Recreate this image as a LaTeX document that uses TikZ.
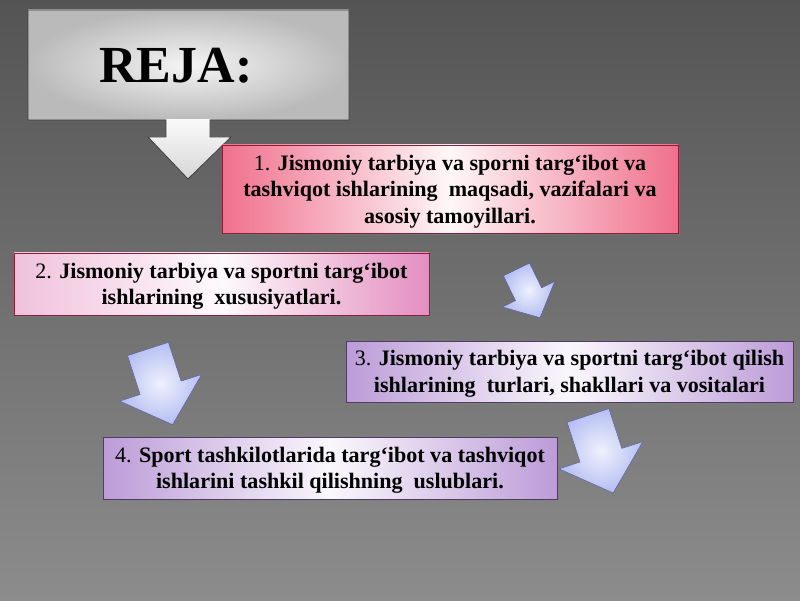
\documentclass[tikz,border=0pt]{standalone}
\usepackage{fontspec}
\setmainfont{Liberation Serif}
\usepackage{tikz}
\usetikzlibrary{shadows}
\definecolor{bgtop}{RGB}{84,84,84}
\definecolor{bgbot}{RGB}{140,140,140}
\definecolor{rose}{RGB}{240,112,140}
\definecolor{roseline}{RGB}{140,30,60}
\definecolor{orchid}{RGB}{228,142,192}
\definecolor{lilac}{RGB}{188,156,216}
\definecolor{lilacline}{RGB}{80,60,100}
\definecolor{arrowblue}{RGB}{120,138,232}
\definecolor{arrowedge}{RGB}{80,90,170}

\begin{document}
\begin{tikzpicture}[
box/.style={draw, line width=0.7pt, inner sep=2pt, align=center, text depth=-5pt,
    font=\fontsize{15.7}{18.8}\selectfont\bfseries,
    drop shadow={opacity=0.35, shadow xshift=0.4mm, shadow yshift=-0.6mm}},
pinkbox/.style={box, draw=roseline, left color=rose, right color=rose, middle color=rose!6!white},
orchidbox/.style={box, draw=roseline, left color=orchid!55!white, right color=orchid, middle color=orchid!5!white},
lilacbox/.style={box, draw=lilacline, left color=lilac, right color=lilac, middle color=lilac!8!white},
bluearrow/.pic={
    \shade[draw=arrowedge, line width=0.3pt, inner color=arrowblue!12!white, outer color=arrowblue!55!white]
    (-0.5,0) -- (0.5,0) -- (0.5,-0.95) -- (1,-0.95) -- (0,-1.85) -- (-1,-0.95) -- (-0.5,-0.95) -- cycle;
}]
\useasboundingbox (0,0) rectangle (20,15);
\fill[top color=bgtop, bottom color=bgbot] (0,0) rectangle (20,15);

\shade[inner color=black!4, outer color=black!27] (0.7,12) rectangle (8.725,14.75);
\shade[top color=black!2, bottom color=black!16]
  (5.25,12.02) -- (5.25,11.575) -- (5.775,11.575) -- (4.7,10.525) -- (3.7,11.575) -- (4.15,11.575) -- (4.15,12.02) -- cycle;
\draw[black!75, line width=0.6pt]
  (0.7,14.75) -- (8.725,14.75) -- (8.725,12) -- (5.25,12) -- (5.25,11.575) -- (5.775,11.575)
  -- (4.7,10.525) -- (3.7,11.575) -- (4.15,11.575) -- (4.15,12) -- (0.7,12) -- cycle;
\node[font=\fontsize{37}{44}\selectfont\bfseries, anchor=base] (reja) at (4.4,12.925) {REJA:};

\node[pinkbox, minimum width=11.4cm, minimum height=2.2cm] (p1) at (11.25,10.275)
  {{\mdseries 1.} Jismoniy tarbiya va sporni targ‘ibot va\\
   tashviqot ishlarining\ \ maqsadi, vazifalari va\\
   asosiy tamoyillari.};
\node[orchidbox, minimum width=10.375cm, minimum height=1.55cm] (p2) at (5.5375,7.9)
  {{\mdseries 2.} Jismoniy tarbiya va sportni targ‘ibot\\
   ishlarining\ \ xususiyatlari.};
\node[lilacbox, minimum width=11.175cm, minimum height=1.525cm] (p3) at (14.2375,5.7125)
  {{\mdseries 3.} Jismoniy tarbiya va sportni targ‘ibot qilish\\
   ishlarining\ \ turlari, shakllari va vositalari};
\node[lilacbox, minimum width=11.35cm, minimum height=1.55cm] (p4) at (8.25,3.3)
  {{\mdseries 4.} Sport tashkilotlarida targ‘ibot va tashviqot\\
   ishlarini tashkil qilishning\ \ uslublari.};

\pic[rotate=26, scale=0.725] (a12) at (12.9125,8.2625) {bluearrow};
\pic[rotate=18, scale=1.075] (a23) at (3.7,6.275) {bluearrow};
\pic[rotate=18, scale=1.1] (a34) at (14.7,4.6125) {bluearrow};
\end{tikzpicture}
\end{document}
